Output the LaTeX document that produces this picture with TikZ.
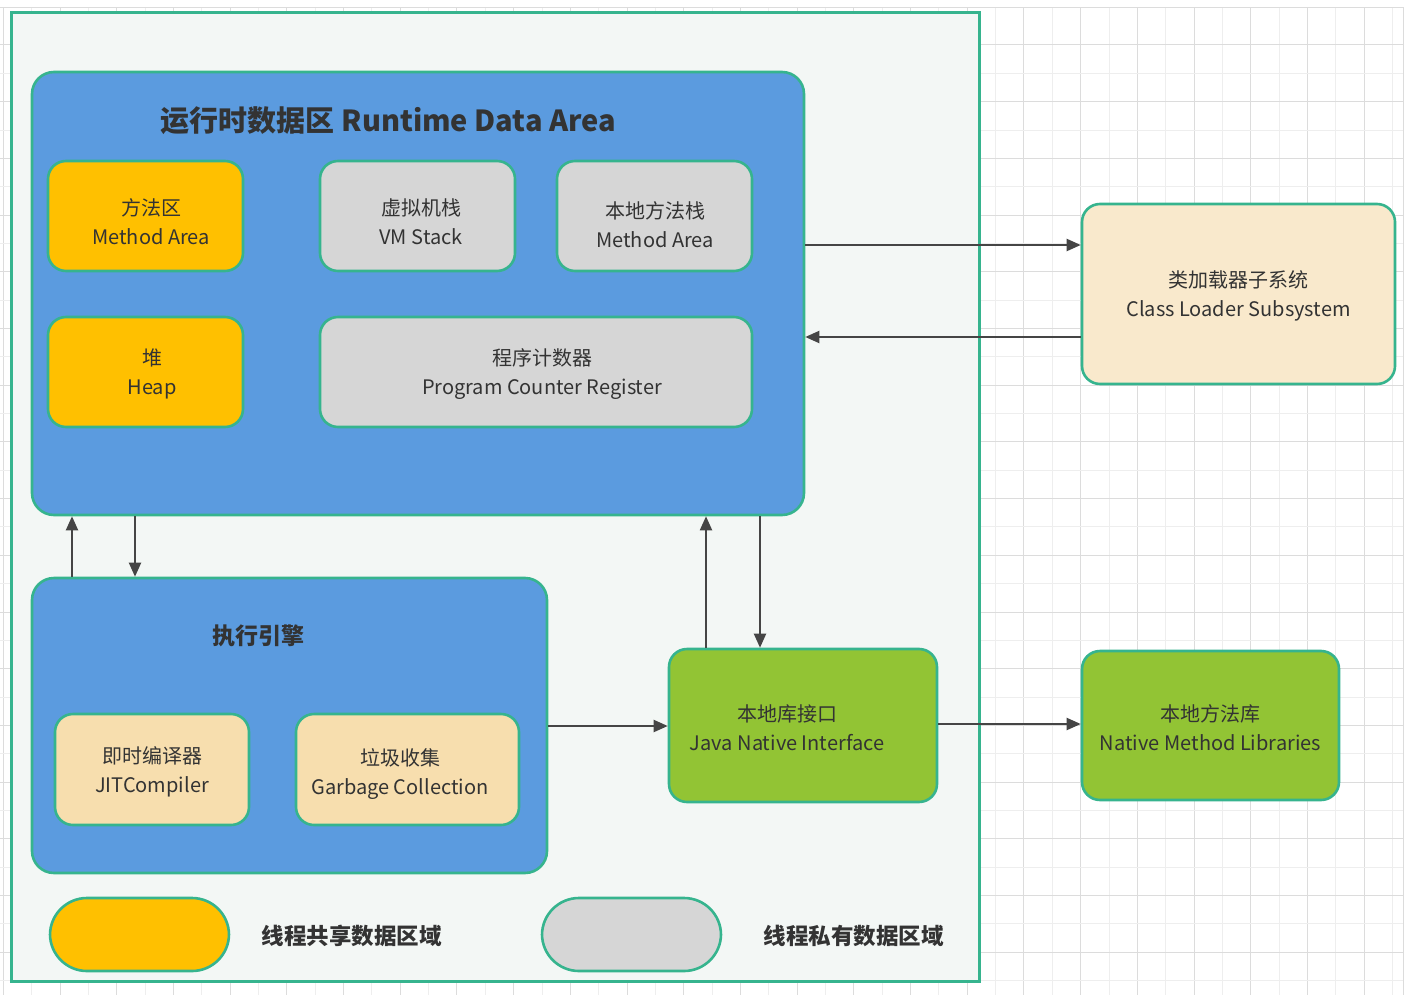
\documentclass[tikz,border=0pt]{standalone}
\usepackage{fontspec}
\setmainfont{Noto Sans CJK SC}
\usetikzlibrary{arrows.meta}
\definecolor{edgec}{HTML}{36B48E}
\definecolor{outerfill}{HTML}{F3F7F5}
\definecolor{bluec}{HTML}{5B9BDF}
\definecolor{orangec}{HTML}{FFC000}
\definecolor{grayc}{HTML}{D6D6D6}
\definecolor{creamc}{HTML}{F9E9CC}
\definecolor{tanc}{HTML}{F7DEAE}
\definecolor{greenc}{HTML}{92C434}
\definecolor{txtc}{HTML}{333333}
\definecolor{arrc}{HTML}{454545}
\definecolor{gridmajor}{HTML}{DCDCDC}
\definecolor{gridminor}{HTML}{EEEEEE}
\tikzset{
  box/.style={draw=edgec, line width=2.6pt, rounded corners=18pt, inner sep=0pt},
  bigbox/.style={box, rounded corners=22pt},
  pill/.style={draw=edgec, line width=2.6pt, rounded corners=37pt, inner sep=0pt},
  lbl/.style={align=center, text=txtc, inner sep=0pt, font=\fontsize{20}{29}\selectfont},
  arr/.style={draw=arrc, line width=2pt, -{Triangle[length=14pt,width=12pt]}},
  ttl/.style={text=txtc, inner sep=0pt, font=\fontsize{29}{33}\selectfont\bfseries},
  leg/.style={text=txtc, inner sep=0pt, font=\fontsize{22.5}{26}\selectfont\bfseries},
}
\begin{document}
\begin{tikzpicture}[x=1pt,y=-1pt]
\useasboundingbox (0,0) rectangle (1412,995);
\fill[white] (0,0) rectangle (1412,995);
% grid
\foreach \i in {0,...,24} {
  \draw[gridminor, line width=1pt] ({31.7+56.7*\i},8) -- ({31.7+56.7*\i},995);
  \draw[gridmajor, line width=1pt] ({3.3+56.7*\i},8) -- ({3.3+56.7*\i},995);
}
\foreach \i in {0,...,16} {
  \draw[gridminor, line width=1pt] (0,{73.35+56.7*\i}) -- (1403,{73.35+56.7*\i});
  \draw[gridmajor, line width=1pt] (0,{45+56.7*\i}) -- (1403,{45+56.7*\i});
}
\draw[gridmajor, line width=1pt] (0,8) -- (1403,8) -- (1403,995);
% outer container
\node[draw=edgec, fill=outerfill, line width=3pt, minimum width=968pt, minimum height=968pt, inner sep=0pt] (outer) at (495,497) {};
% runtime data area
\node[bigbox, fill=bluec, minimum width=772pt, minimum height=443pt] (rda) at (418,293.5) {};
\node[ttl] (rdatitle) at (388.5,121) {运行时数据区 Runtime Data Area};
\node[box, fill=orangec, minimum width=195pt, minimum height=110pt] (ma) at (145.5,216) {};
\node[lbl] (matxt) at (151,222) {方法区\\Method Area};
\node[box, fill=grayc, minimum width=195pt, minimum height=110pt] (vms) at (417.5,216) {};
\node[lbl] (vmstxt) at (421,222) {虚拟机栈\\VM Stack};
\node[box, fill=grayc, minimum width=195pt, minimum height=110pt] (nms) at (654.5,216) {};
\node[lbl] (nmstxt) at (655,224.5) {本地方法栈\\Method Area};
\node[box, fill=orangec, minimum width=195pt, minimum height=110pt] (heap) at (145.5,372) {};
\node[lbl] (heaptxt) at (152,374) {堆\\Heap};
\node[box, fill=grayc, minimum width=432pt, minimum height=110pt] (pc) at (536,372) {};
\node[lbl] (pctxt) at (542,374) {程序计数器\\Program Counter Register};
% execution engine
\node[bigbox, fill=bluec, minimum width=515pt, minimum height=295pt] (exec) at (289.5,725.5) {};
\node[ttl, font=\fontsize{23}{26}\selectfont\bfseries] (exectitle) at (258.5,636) {执行引擎};
\node[box, fill=tanc, minimum width=194pt, minimum height=111pt] (jit) at (152,769.5) {};
\node[lbl] (jittxt) at (152,772) {即时编译器\\JITCompiler};
\node[box, fill=tanc, minimum width=223pt, minimum height=111pt] (gc) at (407.5,769.5) {};
\node[lbl] (gctxt) at (400,774) {垃圾收集\\Garbage Collection};
% JNI
\node[box, fill=greenc, minimum width=268pt, minimum height=153pt] (jni) at (803,725.5) {};
\node[lbl] (jnitxt) at (787,728) {本地库接口\\Java Native Interface};
% class loader
\node[box, fill=creamc, minimum width=313pt, minimum height=180pt] (cls) at (1238.5,294) {};
\node[lbl] (clstxt) at (1238.5,296) {类加载器子系统\\Class Loader Subsystem};
% native libraries
\node[box, fill=greenc, minimum width=257pt, minimum height=149pt] (nml) at (1210.5,725.5) {};
\node[lbl] (nmltxt) at (1210.5,728) {本地方法库\\Native Method Libraries};
% legend
\node[pill, fill=orangec, minimum width=179pt, minimum height=73pt] (legshared) at (139.5,934.5) {};
\node[leg] (legsharedtxt) at (351.5,936) {线程共享数据区域};
\node[pill, fill=grayc, minimum width=179pt, minimum height=73pt] (legprivate) at (631.5,934.5) {};
\node[leg] (legprivatetxt) at (853.5,936) {线程私有数据区域};
% arrows
\draw[arr] (rda.east |- 0,245) -- (cls.west |- 0,245);
\draw[arr] (cls.west |- 0,337) -- (rda.east |- 0,337);
\draw[arr] (exec.north -| 72,0) -- (rda.south -| 72,0);
\draw[arr] (rda.south -| 135,0) -- (exec.north -| 135,0);
\draw[arr] (jni.north -| 706,0) -- (rda.south -| 706,0);
\draw[arr] (rda.south -| 760,0) -- (jni.north -| 760,0);
\draw[arr] (exec.east |- 0,726) -- (jni.west |- 0,726);
\draw[arr] (jni.east |- 0,724) -- (nml.west |- 0,724);
\end{tikzpicture}
\end{document}
